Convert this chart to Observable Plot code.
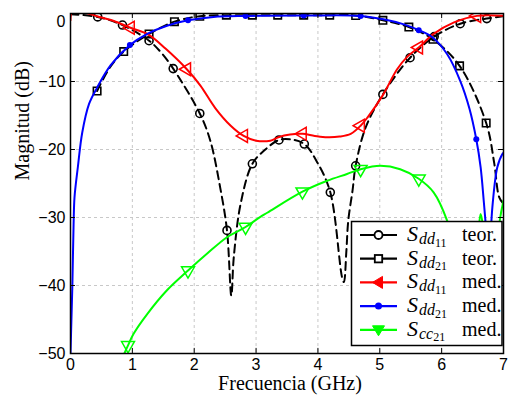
<!DOCTYPE html>
<html>
<head>
<meta charset="utf-8">
<script src="https://cdn.jsdelivr.net/npm/d3@7"></script>
<script src="https://cdn.jsdelivr.net/npm/@observablehq/plot@0.6"></script>
<style>
  html, body { margin: 0; padding: 0; background: white; }
</style>
</head>
<body>
<div id="chart"></div>
<script>
// ---- Tick values ----
const xTicks = [0, 1, 2, 3, 4, 5, 6, 7];
const yTicks = [-50, -40, -30, -20, -10, 0];

// ---- S_dd11 teórico (black dashed, circles) ----
const dd11TeorX = [0, 0.44, 0.84, 1.27, 1.47, 1.66, 2.09, 2.26, 2.42, 2.53, 2.6, 2.64, 2.75, 2.94, 3.15, 3.37, 3.55, 3.78, 3.99, 4.2, 4.39, 4.42, 4.46, 4.49, 4.56, 4.61, 4.77, 5.05, 5.49, 5.88, 6.3, 6.73, 7];
const dd11TeorY = [-0.1, -0.5, -1.7, -4.0, -5.8, -8.1, -14.7, -18.7, -25.6, -31.9, -41.5, -35.8, -28, -22.1, -20.0, -18.6, -18.5, -19.2, -21.9, -26.3, -38.8, -39.5, -34.9, -30.5, -26.0, -22.4, -16.8, -11.9, -6.5, -3.4, -1.5, -0.75, -0.4];
const dd11TeorMkX = [0.44, 0.84, 1.27, 1.66, 2.09, 2.53, 2.94, 3.37, 3.78, 4.2, 4.61, 5.05, 5.49, 5.88, 6.3, 6.73];
const dd11TeorMkY = [-0.5, -1.7, -4.0, -8.1, -14.7, -31.9, -22.1, -18.6, -19.2, -26.3, -22.4, -11.9, -6.5, -3.4, -1.5, -0.75];

// ---- S_dd21 teórico (black dashed, squares) ----
const dd21TeorX = [0.43, 0.64, 0.86, 1.27, 1.68, 2.09, 2.52, 2.94, 3.35, 3.77, 4.19, 4.61, 5.05, 5.47, 5.86, 6.29, 6.72, 6.85, 6.93, 7];
const dd21TeorY = [-11.4, -7.9, -5.6, -3.0, -1.2, -0.4, -0.25, -0.25, -0.25, -0.25, -0.25, -0.3, -1.0, -2.0, -3.8, -7.7, -16.1, -22, -27, -28];
const dd21TeorMkX = [0.43, 0.86, 1.27, 1.68, 2.09, 2.52, 2.94, 3.35, 3.77, 4.19, 4.61, 5.05, 5.47, 5.86, 6.29, 6.72];
const dd21TeorMkY = [-11.4, -5.6, -3.0, -1.2, -0.4, -0.25, -0.25, -0.25, -0.25, -0.25, -0.3, -1.0, -2.0, -3.8, -7.7, -16.1];

// ---- S_dd11 medido (red, left triangles) ----
const dd11MedX = [0, 0.03, 0.2, 0.43, 0.7, 0.97, 1.26, 1.54, 1.88, 2.1, 2.34, 2.59, 2.8, 3.0, 3.23, 3.36, 3.55, 3.75, 3.95, 4.15, 4.35, 4.53, 4.69, 4.8, 5.05, 5.28, 5.45, 5.63, 5.87, 6.2, 6.57, 7];
const dd11MedY = [-1.0, 0.3, 0.2, -0.4, -1.1, -2.1, -3.1, -5.2, -8.2, -10.6, -13.9, -16.5, -18.0, -18.7, -18.7, -18.2, -17.8, -17.7, -18.0, -18.2, -18.1, -17.7, -16.5, -15.3, -12.0, -8.2, -6.3, -5.0, -3.0, -1.3, -0.35, -0.35];
const dd11MedMkX = [0.97, 1.88, 2.8, 3.75, 4.69, 5.63, 6.57];
const dd11MedMkY = [-2.1, -8.2, -18.0, -17.7, -16.5, -5.0, -0.35];

// ---- S_dd21 medido (blue, dots) ----
const dd21MedX = [0, 0.015, 0.03, 0.05, 0.065, 0.12, 0.19, 0.3, 0.43, 0.65, 0.96, 1.24, 1.56, 1.9, 2.31, 2.83, 3.77, 4.69, 5.06, 5.39, 5.63, 5.85, 6.09, 6.3, 6.45, 6.56, 6.63, 6.68, 6.73, 6.76, 6.79, 6.82, 6.9, 6.98, 7];
const dd21MedY = [-50, -45, -40, -31, -27, -22.5, -17.5, -13.3, -10.9, -7.6, -4.65, -3.0, -1.8, -1.0, -0.5, -0.35, -0.3, -0.35, -0.85, -1.6, -2.45, -3.5, -6.0, -9.9, -14, -18.5, -22.6, -27.5, -33, -37, -33, -28.5, -22.6, -20.7, -20.5];
const dd21MedMkX = [0.96, 1.9, 2.83, 3.77, 4.69, 5.63, 6.56];
const dd21MedMkY = [-4.65, -1.0, -0.35, -0.3, -0.35, -2.45, -18.5];

// ---- S_cc21 medido (green, down triangles) ----
const cc21MedX = [0.87, 0.93, 1.02, 1.24, 1.56, 1.9, 2.21, 2.53, 2.83, 3.07, 3.18, 3.75, 4.15, 4.47, 4.69, 5.01, 5.33, 5.63, 5.87, 6.09, 6.25, 6.45, 6.58, 6.63, 6.7, 6.85, 6.93, 7];
const cc21MedY = [-50, -48.8, -47.1, -44.2, -40.7, -37.8, -35.3, -32.9, -31.4, -29.9, -29.3, -26.2, -24.6, -23.6, -22.9, -22.4, -22.9, -24.3, -26.3, -30.5, -36, -42, -34, -29.5, -33, -38, -31, -27.5];
const cc21MedMkX = [0.93, 1.9, 2.83, 3.75, 4.69, 5.63];
const cc21MedMkY = [-48.8, -37.8, -31.4, -26.2, -22.9, -24.3];

const zip = (xs, ys) => xs.map((x, i) => ({x, y: ys[i]}));

const dd11Teor = zip(dd11TeorX, dd11TeorY), dd11TeorMk = zip(dd11TeorMkX, dd11TeorMkY);
const dd21Teor = zip(dd21TeorX, dd21TeorY), dd21TeorMk = zip(dd21TeorMkX, dd21TeorMkY);
const dd11Med = zip(dd11MedX, dd11MedY), dd11MedMk = zip(dd11MedMkX, dd11MedMkY);
const dd21Med = zip(dd21MedX, dd21MedY), dd21MedMk = zip(dd21MedMkX, dd21MedMkY);
const cc21Med = zip(cc21MedX, cc21MedY), cc21MedMk = zip(cc21MedMkX, cc21MedMkY);

const RED = "#ff0000", BLUE = "#0000ff", GREEN = "#00ff00";

const svg = Plot.plot({
  width: 508,
  height: 399,
  marginLeft: 70,
  marginRight: 5,
  marginTop: 13,
  marginBottom: 46,
  x: {domain: [0, 7]},
  y: {domain: [-50, 0]},
  style: {fontFamily: "Liberation Sans", fontSize: "16px", background: "white", color: "black"},
  marks: [
    Plot.gridX(xTicks, {stroke: "#c8c8c8", strokeOpacity: 1, strokeDasharray: "3,3"}),
    Plot.gridY(yTicks, {stroke: "#c8c8c8", strokeOpacity: 1, strokeDasharray: "3,3"}),

    Plot.line(dd11Teor, {x: "x", y: "y", stroke: "black", strokeWidth: 2, strokeDasharray: "8,5", curve: "catmull-rom", clip: true}),
    Plot.dot(dd11TeorMk, {x: "x", y: "y", r: 4, stroke: "black", strokeWidth: 1.6, fill: "none", clip: true}),
    Plot.line(dd21Teor, {x: "x", y: "y", stroke: "black", strokeWidth: 2, strokeDasharray: "8,5", curve: "catmull-rom", clip: true}),
    Plot.dot(dd21TeorMk, {x: "x", y: "y", r: 4.2, symbol: "square", stroke: "black", strokeWidth: 1.6, fill: "none", clip: true}),

    Plot.line(dd11Med, {x: "x", y: "y", stroke: RED, strokeWidth: 2, curve: "catmull-rom", clip: true}),
    Plot.dot(dd11MedMk, {x: "x", y: "y", r: 4.8, symbol: "triangle", rotate: -90, stroke: RED, strokeWidth: 1.5, fill: "none", clip: true}),

    Plot.line(dd21Med, {x: "x", y: "y", stroke: BLUE, strokeWidth: 2, curve: "catmull-rom", clip: true}),
    Plot.dot(dd21MedMk, {x: "x", y: "y", r: 3, fill: BLUE, clip: true}),

    Plot.line(cc21Med, {x: "x", y: "y", stroke: GREEN, strokeWidth: 2, curve: "catmull-rom", clip: true}),
    Plot.dot(cc21MedMk, {x: "x", y: "y", r: 4.8, symbol: "triangle", rotate: 180, stroke: GREEN, strokeWidth: 1.5, fill: "none", clip: true}),

    Plot.frame({stroke: "black", strokeWidth: 1.5}),
    // inward ticks
    Plot.ruleX(xTicks, {y1: -50, y2: -49.25, stroke: "black", strokeWidth: 1}),
    Plot.ruleX(xTicks, {y1: 0, y2: -0.75, stroke: "black", strokeWidth: 1}),
    Plot.ruleY(yTicks, {x1: 0, x2: 0.08, stroke: "black", strokeWidth: 1}),
    Plot.ruleY(yTicks, {x1: 7, x2: 6.92, stroke: "black", strokeWidth: 1}),

    Plot.axisX(xTicks, {tickSize: 0, tickPadding: 5, label: null, fontSize: 16}),
    Plot.axisY(yTicks.filter(v => v !== 0), {tickSize: 0, tickPadding: 5, label: null, fontSize: 16}),
    Plot.axisY([0], {tickSize: 0, tickPadding: 5, label: null, fontSize: 16, dy: 8}),

    Plot.text(["Frecuencia (GHz)"], {frameAnchor: "bottom", dy: 36, dx: 3, fontFamily: "Liberation Serif", fontSize: 20}),
    Plot.text(["Magnitud (dB)"], {frameAnchor: "left", dx: -48, dy: -3, rotate: -90, fontFamily: "Liberation Serif", fontSize: 20})
  ]
});

document.getElementById("chart").appendChild(svg);

// ---- Legend (inside the plot area, as in the reference) ----
const legendItems = [
  {sub: "dd", num: "11", tag: "teor.", color: "black", marker: "circle"},
  {sub: "dd", num: "21", tag: "teor.", color: "black", marker: "square"},
  {sub: "dd", num: "11", tag: "med.", color: RED, marker: "left"},
  {sub: "dd", num: "21", tag: "med.", color: BLUE, marker: "dot"},
  {sub: "cc", num: "21", tag: "med.", color: GREEN, marker: "down"}
];

const lg = d3.select(svg).append("g").attr("class", "legend").attr("text-anchor", "start");
lg.append("rect")
  .attr("x", 351.5).attr("y", 221.5).attr("width", 150.5).attr("height", 124)
  .attr("fill", "white").attr("stroke", "black").attr("stroke-width", 1.5);

legendItems.forEach((d, i) => {
  const cy = 235 + i * 23.7;
  lg.append("line").attr("x1", 360).attr("x2", 397).attr("y1", cy).attr("y2", cy)
    .attr("stroke", d.color).attr("stroke-width", 2.2);
  const mx = 378.5;
  if (d.marker === "circle") {
    lg.append("circle").attr("cx", mx).attr("cy", cy).attr("r", 4)
      .attr("fill", "white").attr("stroke", "black").attr("stroke-width", 1.8);
  } else if (d.marker === "square") {
    lg.append("rect").attr("x", mx - 3.7).attr("y", cy - 3.7).attr("width", 7.4).attr("height", 7.4)
      .attr("fill", "white").attr("stroke", "black").attr("stroke-width", 1.8);
  } else if (d.marker === "left") {
    lg.append("path").attr("d", `M${mx - 6},${cy} L${mx + 4},${cy - 6} L${mx + 4},${cy + 6} Z`)
      .attr("fill", d.color).attr("stroke", d.color);
  } else if (d.marker === "dot") {
    lg.append("circle").attr("cx", mx).attr("cy", cy).attr("r", 3.5).attr("fill", d.color);
  } else if (d.marker === "down") {
    lg.append("path").attr("d", `M${mx},${cy + 6} L${mx - 6},${cy - 4} L${mx + 6},${cy - 4} Z`)
      .attr("fill", d.color).attr("stroke", d.color);
  }
  const t = lg.append("text").attr("x", 407).attr("y", cy + 6)
    .attr("text-anchor", "start")
    .attr("font-family", "Liberation Serif").attr("font-size", 22).attr("fill", "black");
  t.append("tspan").attr("font-style", "italic").text("S");
  t.append("tspan").attr("font-style", "italic").attr("font-size", 16).attr("dy", 3).attr("dx", 1).text(d.sub);
  t.append("tspan").attr("font-size", 12).attr("dy", 2.5).text(d.num);
  lg.append("text").attr("x", 462).attr("y", cy + 6)
    .attr("text-anchor", "start")
    .attr("font-family", "Liberation Serif").attr("font-size", 20).attr("fill", "black")
    .text(d.tag);
});
</script>
</body>
</html>
